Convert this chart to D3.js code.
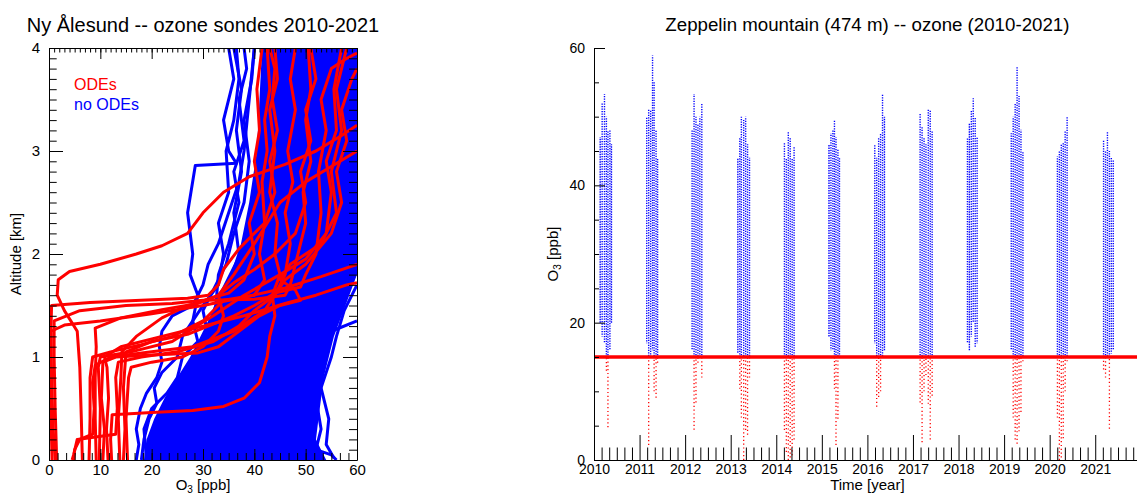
<!DOCTYPE html>
<html>
<head>
<meta charset="utf-8">
<script src="https://cdn.jsdelivr.net/npm/d3@7"></script>
<style>
  body { margin: 0; background: #fff; }
  svg { display: block; }
</style>
</head>
<body>
<svg id="chart" width="1137" height="494"></svg>
<script>
const FONT = '"Liberation Sans", Arial, Helvetica, sans-serif';
const RED = '#ff0000';
const BLUE = '#0000ff';

// ---- left panel data: ozone sonde profiles, [O3 ppb, altitude km]
const odeProfiles = [
  [[0.6,0],[0.4,0.4],[0.3,0.9],[0.4,1.25],[3,1.31],[10,1.35],[20,1.42],[30,1.5],[38,1.58],[46,1.67],[53,1.78],[60,1.9]],
  [[1.2,0],[0.8,0.3],[0.5,0.8],[0.4,1.3],[0.5,1.5],[8,1.53],[18,1.55],[27,1.57],[31,1.6],[33,1.7],[34,1.85],[37,2.05],[42,2.3],[44,2.6],[43,2.9],[44.5,3.2],[43.5,3.5],[44,3.8],[43,4.0]],
  [[6.5,0],[6.3,0.4],[6,0.9],[5.5,1.25],[3,1.45],[1.6,1.6],[1.8,1.75],[4,1.83],[10,1.9],[17,2.0],[22,2.08],[27,2.2],[30,2.4],[34,2.6],[39,2.75],[46,2.87],[52,3.0],[57,3.15],[60,3.25]],
  [[9.2,0],[9,0.4],[9,0.8],[9.2,1.1],[9,1.28],[14,1.38],[22,1.46],[29,1.52],[33,1.6],[36,1.72],[40,1.85],[44,2.0],[48,2.2],[50,2.5],[49,2.8],[51,3.1],[50,3.4],[52,3.7],[51,4.0]],
  [[4.8,0],[5,0.1],[6,0.2],[8.5,0.25],[8.8,0.5],[8.5,0.75],[9,0.92],[12,1.0],[20,1.05],[28,1.1],[36,1.25],[42,1.45],[44,1.6],[46,1.8],[47,2.1],[46,2.4],[47.5,2.7],[46.5,3.0],[48,3.4],[47,3.7],[48,4.0]],
  [[10.5,0],[10.8,0.3],[10.2,0.6],[10.5,0.95],[13,1.0],[20,1.02],[29,1.04],[33,1.1],[37,1.25],[41,1.4],[45,1.5],[49,1.55],[48,1.65],[45,1.75],[47,1.9],[53,2.1],[56,2.4],[55,2.8],[57,3.2],[56,3.6],[58,4.0]],
  [[12.2,0],[12,0.2],[12.3,0.44],[20,0.46],[28,0.48],[34,0.52],[38,0.6],[41,0.75],[42.5,1.0],[43,1.2],[44,1.4],[43.5,1.6],[45,1.8],[44,2.0],[44.5,2.3],[43,2.6],[44,3.0],[43,3.4],[44.5,3.7],[44,4.0]],
  [[14.5,0],[14.8,0.3],[14.5,0.7],[15,1.05],[20,1.15],[27,1.22],[31,1.3],[36,1.4],[40,1.5],[44,1.62],[49,1.68],[50,1.8],[52,2.0],[53,2.4],[52.5,2.8],[54,3.2],[53,3.5],[55,3.8],[58,3.9],[60,3.95]],
  [[15.3,0],[15,0.4],[15.5,0.8],[16,0.9],[20,0.95],[26,1.0],[30,1.1],[33,1.25],[34,1.4],[33,1.6],[36,1.8],[40,2.1],[45,2.5],[50,2.7],[55,2.85],[60,3.0]],
  [[7.8,0],[8,0.4],[8,0.8],[8.5,1.0],[12,1.05],[18,1.12],[24,1.2],[30,1.35],[33,1.5],[34,1.55],[40,1.6],[42,1.75],[41,2.0],[42,2.3],[41.5,2.7],[42.5,3.0],[42,3.3],[43,3.6],[42.5,4.0]],
  [[4.5,0],[4.8,0.05],[5.5,0.2],[13,0.25],[13.3,0.5],[13,0.8],[13.5,0.95],[18,1.0],[25,1.05],[32,1.15],[37,1.3],[40,1.45],[44,1.6],[46,1.75],[50,1.9],[55,2.2],[57,2.5],[56,2.8],[58,3.1],[57,3.4],[59,3.7],[60,3.8]],
  [[11.5,0],[11.2,0.3],[11.6,0.6],[11.3,0.9],[10.8,1.0],[14,1.1],[22,1.2],[30,1.3],[38,1.4],[46,1.52],[52,1.6],[58,1.7],[60,1.72]],
  [[1.5,0],[1.2,0.5],[1.0,1.0],[1.0,1.35],[6,1.45],[15,1.5],[24,1.52],[30,1.55],[35,1.62],[38,1.75],[40,2.0],[39,2.3],[41,2.6],[40,2.9],[41,3.2],[40.5,3.6],[41.5,4.0]],
  [[13.8,0],[13.5,0.4],[14,0.8],[14.2,1.05],[17,1.2],[22,1.38],[27,1.5],[31,1.55],[40,1.56],[46,1.6],[47,1.7],[48.5,2.0],[50,2.3],[49.5,2.6],[51,2.9],[50,3.3],[51,3.6],[50.5,4.0]],
  [[9.8,0],[10,0.5],[9.6,0.9],[10,1.0],[16,1.05],[24,1.15],[32,1.4],[38,1.6],[45,1.8],[50,1.95],[54,2.2],[55,2.6],[54,2.9],[56,3.2],[55.5,3.6],[57,4.0]]
];

const noOdeProfiles = [
  [[17,0],[17.5,0.15],[17,0.3],[17.8,0.5],[19,0.65],[21,0.8],[22,0.95],[21.5,1.1],[22,1.25],[24,1.4],[28,1.5],[30,1.7],[31,1.9],[33,2.1],[35,2.4],[37,2.7],[38,3.0],[39,3.5],[40,4.0]],
  [[18,0],[18.5,0.2],[19.5,0.4],[21,0.55],[20.5,0.7],[22,0.85],[25,1.0],[26,1.2],[28,1.35],[29,1.6],[27.5,1.8],[28,2.0],[27,2.4],[28.5,2.86],[36.5,2.88],[35,3.0],[34,3.3],[36,3.7],[35,4.0]],
  [[19,0],[18.5,0.3],[20,0.5],[23,0.65],[25,0.8],[26,1.0],[29,1.15],[28,1.35],[30,1.5],[33,1.7],[34,2.0],[33,2.3],[35,2.6],[34.5,3.0],[36,3.3],[37,3.7],[36.5,4.0]],
  [[20,0],[21,0.25],[22,0.5],[24,0.7],[27,0.9],[30,1.1],[31,1.3],[32.5,1.5],[33,1.8],[35,2.1],[37,2.5],[36,2.8],[38,3.1],[37,3.5],[38.5,3.8],[38,4.0]],
  [[23,0],[22.5,0.3],[24,0.6],[26,0.75],[29,0.95],[31,1.2],[30,1.45],[32,1.65],[34.5,1.9],[36,2.2],[38,2.5],[39,2.9],[38,3.3],[39.5,3.7],[40,4.0]],
  [[21,0],[22,0.4],[25,0.6],[28,0.85],[30,1.0],[33,1.2],[34,1.45],[35,1.7],[37,2.0],[36,2.4],[37.5,2.8],[36.5,3.2],[37.5,3.6],[36,4.0]],
  [[56,0],[55,0.05],[52,0.1],[53,0.3],[52,0.6],[53,0.9],[54,1.1],[55,1.25],[60,1.35]],
  [[55.5,0.02],[54,0.15],[54.5,0.4],[53,0.7],[55,1.0],[56,1.2],[57.5,1.45],[60,1.7]]
];

// edges of the dense blue band of no-ODE profiles
const bandKm    = [0, 0.2, 0.4, 0.6, 0.8, 1.0, 1.2, 1.4, 1.6, 1.8, 2.0, 2.5, 3.0, 3.5, 4.0];
const bandLeft  = [18.5, 19, 20.5, 22.5, 25, 27.5, 29.5, 31.5, 33, 35, 37, 39, 40.5, 41, 41.5];
const bandRight = [54, 52, 52.5, 53, 53.5, 54.5, 55.5, 57, 58.5, 60, 60, 60, 60, 60, 60];

const ppbTicks = [0, 10, 20, 30, 40, 50, 60];
const kmTicks = [0, 1, 2, 3, 4];

// ---- right panel data: Zeppelin spring ozone, columns [time, min O3, max O3]
const zepColumns = [
  [2010.136,20,47],[2010.179,18,52],[2010.230,17,53.3],[2010.272,13,50],[2010.306,4.4,48],[2010.349,16,48],[2010.383,20,46],
  [2011.157,17,50],[2011.200,2,51],[2011.243,15,51],[2011.285,16,58.9],[2011.319,10,55],[2011.362,8.7,48],[2011.396,14,44],
  [2012.153,16,48],[2012.196,4.4,53.3],[2012.238,8,50],[2012.281,14,49],[2012.323,15,50],[2012.366,12,52],
  [2013.157,15.5,44],[2013.200,10,47],[2013.234,6,50],[2013.285,0,49.5],[2013.328,4,50],[2013.370,3.5,46],[2013.413,12,44],
  [2014.179,4,46.2],[2014.221,1,44],[2014.264,0,47.9],[2014.306,0,47],[2014.349,0.5,44],[2014.391,3,45.7],
  [2015.157,18,46],[2015.200,16,47.6],[2015.243,16,48],[2015.277,10,49.6],[2015.311,2,47],[2015.353,6,45.2],[2015.387,15,44],
  [2016.162,17,45.9],[2016.204,7.4,44],[2016.247,9,47],[2016.289,10,47.6],[2016.332,15,53.2],[2016.374,16,50],
  [2017.157,8,50.5],[2017.200,2.4,48.6],[2017.243,10,47],[2017.285,12,46],[2017.336,8,51],[2017.379,3,51],[2017.421,9,48],
  [2018.196,17,47],[2018.238,16,49],[2018.281,18,51],[2018.323,20,52.7],[2018.366,16.5,50],[2018.408,17,47],
  [2019.157,16,47.6],[2019.200,6,50],[2019.243,3,52],[2019.285,2,57.3],[2019.328,4,53],[2019.370,7,48.1],[2019.413,14,45],
  [2020.170,6,44.2],[2020.213,0,45],[2020.255,0,46],[2020.298,3,46.2],[2020.340,10,48],[2020.383,14,50],
  [2021.183,13,46.6],[2021.226,12,45],[2021.268,15,47.9],[2021.311,4.2,45],[2021.353,15.5,44],[2021.396,16,43.7]
];
const odeThreshold = 15;
const yearLabels = [2010, 2011, 2012, 2013, 2014, 2015, 2016, 2017, 2018, 2019, 2020, 2021];
const o3Ticks = [0, 20, 40, 60];
const o3MinorTicks = [5, 10, 15, 25, 30, 35, 45, 50, 55];

const svg = d3.select('#chart').attr('font-family', FONT);
const defs = svg.append('defs');

function styleAxis(g, size) {
  g.attr('font-family', FONT).attr('font-size', size);
  g.selectAll('text').attr('fill', '#000');
  g.selectAll('line, path').attr('stroke', '#000');
}

function o3Label(g, x, y, rotate) {
  const t = g.append('text')
    .attr('transform', `translate(${x},${y})` + (rotate ? ' rotate(-90)' : ''))
    .attr('text-anchor', 'middle')
    .attr('font-size', 15);
  t.append('tspan').text('O');
  t.append('tspan').attr('font-size', 10).attr('dy', 2.5).text('3');
  t.append('tspan').attr('dy', -2.5).text(' [ppb]');
}

// ================= left panel =================
const xL = d3.scaleLinear().domain([0, 60]).range([49, 357]);
const yL = d3.scaleLinear().domain([0, 4]).range([460, 48]);

defs.append('clipPath').attr('id', 'clipL').append('rect')
  .attr('x', 49).attr('y', 48).attr('width', 308).attr('height', 412);

const left = svg.append('g');
const plotL = left.append('g').attr('clip-path', 'url(#clipL)');

const band = d3.area()
  .y(d => yL(d[0]))
  .x0(d => xL(d[1]))
  .x1(d => xL(d[2]));
plotL.append('path')
  .datum(bandKm.map((k, i) => [k, bandLeft[i], bandRight[i]]))
  .attr('d', band)
  .attr('fill', BLUE);

const profileLine = d3.line().x(d => xL(d[0])).y(d => yL(d[1]));
plotL.selectAll('.noode').data(noOdeProfiles).join('path')
  .attr('class', 'noode')
  .attr('d', profileLine)
  .attr('fill', 'none').attr('stroke', BLUE)
  .attr('stroke-width', 3).attr('stroke-linejoin', 'round');
plotL.selectAll('.ode').data(odeProfiles).join('path')
  .attr('class', 'ode')
  .attr('d', profileLine)
  .attr('fill', 'none').attr('stroke', RED)
  .attr('stroke-width', 3).attr('stroke-linejoin', 'round');

// box axes, ticks pointing inward
const ppbMinor = d3.range(0, 60.001, 10 / 6);
const ppbMinorTop = d3.range(0, 61, 1);
const kmMinor = d3.range(0, 4.001, 0.1);

left.append('g').attr('transform', `translate(0,${yL(0)})`)
  .call(d3.axisBottom(xL).tickValues(ppbMinor).tickSize(-7).tickFormat(''))
  .call(g => g.select('.domain').remove()).call(styleAxis, 15);
left.append('g').attr('transform', `translate(0,${yL(0)})`)
  .call(d3.axisBottom(xL).tickValues(ppbTicks).tickSize(-11).tickSizeOuter(0).tickPadding(4).tickFormat(d3.format('d')))
  .call(styleAxis, 15);
left.append('g').attr('transform', `translate(0,${yL(4)})`)
  .call(d3.axisTop(xL).tickValues(ppbMinorTop).tickSize(-4.5).tickFormat(''))
  .call(g => g.select('.domain').remove()).call(styleAxis, 15);
left.append('g').attr('transform', `translate(0,${yL(4)})`)
  .call(d3.axisTop(xL).tickValues(ppbTicks).tickSize(-11).tickSizeOuter(0).tickFormat(''))
  .call(styleAxis, 15);
left.append('g').attr('transform', `translate(${xL(0)},0)`)
  .call(d3.axisLeft(yL).tickValues(kmMinor).tickSize(-7.7).tickFormat(''))
  .call(g => g.select('.domain').remove()).call(styleAxis, 15);
left.append('g').attr('transform', `translate(${xL(0)},0)`)
  .call(d3.axisLeft(yL).tickValues(kmTicks).tickSize(-14).tickSizeOuter(0).tickPadding(9).tickFormat(d3.format('d')))
  .call(styleAxis, 15);
left.append('g').attr('transform', `translate(${xL(60)},0)`)
  .call(d3.axisRight(yL).tickValues(kmMinor).tickSize(-8).tickFormat(''))
  .call(g => g.select('.domain').remove()).call(styleAxis, 15);
left.append('g').attr('transform', `translate(${xL(60)},0)`)
  .call(d3.axisRight(yL).tickValues(kmTicks).tickSize(-14).tickSizeOuter(0).tickFormat(''))
  .call(styleAxis, 15);

left.append('text')
  .attr('x', (xL(0) + xL(60)) / 2).attr('y', 32)
  .attr('text-anchor', 'middle').attr('font-size', 20)
  .text('Ny Ålesund -- ozone sondes 2010-2021');
o3Label(left, (xL(0) + xL(60)) / 2, 490, false);
left.append('text')
  .attr('transform', `translate(21,${(yL(0) + yL(4)) / 2}) rotate(-90)`)
  .attr('text-anchor', 'middle').attr('font-size', 15)
  .text('Altitude [km]');
left.append('text').attr('x', 74).attr('y', 90)
  .attr('font-size', 16).attr('fill', RED).text('ODEs');
left.append('text').attr('x', 74).attr('y', 110)
  .attr('font-size', 16).attr('fill', BLUE).text('no ODEs');

// ================= right panel =================
const xR = d3.scaleLinear().domain([2010, 2022]).range([594, 1140.8]);
const yR = d3.scaleLinear().domain([0, 60]).range([460, 48]);

defs.append('clipPath').attr('id', 'clipR').append('rect')
  .attr('x', 594).attr('y', 48).attr('width', 547).attr('height', 412);

const right = svg.append('g');
const plotR = right.append('g').attr('clip-path', 'url(#clipR)');

// blue part (>= threshold) and red part (< threshold) of each column of hourly values
plotR.selectAll('.zb').data(zepColumns).join('line')
  .attr('class', 'zb')
  .attr('x1', d => xR(d[0])).attr('x2', d => xR(d[0]))
  .attr('y1', d => yR(Math.max(d[1], odeThreshold))).attr('y2', d => yR(d[2]))
  .attr('stroke', BLUE).attr('stroke-width', 1.4)
  .attr('stroke-dasharray', '1.3 1.2')
  .attr('stroke-dashoffset', (d, i) => (i % 3) * 0.8);
plotR.selectAll('.zr').data(zepColumns.filter(d => d[1] < odeThreshold)).join('line')
  .attr('class', 'zr')
  .attr('x1', d => xR(d[0])).attr('x2', d => xR(d[0]))
  .attr('y1', d => yR(d[1])).attr('y2', d => yR(odeThreshold))
  .attr('stroke', RED).attr('stroke-width', 1.3)
  .attr('stroke-dasharray', '1.2 2.6')
  .attr('stroke-dashoffset', (d, i) => (i % 3) * 1.3);

right.append('line')
  .attr('x1', xR(2010)).attr('x2', 1137)
  .attr('y1', yR(odeThreshold)).attr('y2', yR(odeThreshold))
  .attr('stroke', RED).attr('stroke-width', 3.5);

const monthMinor = d3.range(2010, 2022.001, 1 / 6).filter(v => Math.abs(v - Math.round(v)) > 0.01);

right.append('g').attr('transform', `translate(${xR(2010)},0)`)
  .call(d3.axisLeft(yR).tickValues(o3MinorTicks).tickSize(-5).tickFormat(''))
  .call(g => g.select('.domain').remove()).call(styleAxis, 14);
right.append('g').attr('transform', `translate(${xR(2010)},0)`)
  .call(d3.axisLeft(yR).tickValues(o3Ticks).tickSize(-11).tickSizeOuter(0).tickPadding(9))
  .call(styleAxis, 14);
right.append('g').attr('transform', `translate(0,${yR(0)})`)
  .call(d3.axisBottom(xR).tickValues(monthMinor).tickSize(-12.5).tickFormat(''))
  .call(g => g.select('.domain').remove()).call(styleAxis, 14);
right.append('g').attr('transform', `translate(0,${yR(0)})`)
  .call(d3.axisBottom(xR).tickValues(yearLabels).tickSize(-25).tickSizeOuter(0).tickPadding(4).tickFormat(d3.format('d')))
  .call(styleAxis, 14);

right.append('text')
  .attr('x', (xR(2010) + xR(2022)) / 2).attr('y', 31)
  .attr('text-anchor', 'middle').attr('font-size', 18.7)
  .text('Zeppelin mountain (474 m) -- ozone (2010-2021)');
right.append('text')
  .attr('x', (xR(2010) + xR(2022)) / 2).attr('y', 490)
  .attr('text-anchor', 'middle').attr('font-size', 15)
  .text('Time [year]');
o3Label(right, 558, (yR(0) + yR(60)) / 2, true);
</script>
</body>
</html>
